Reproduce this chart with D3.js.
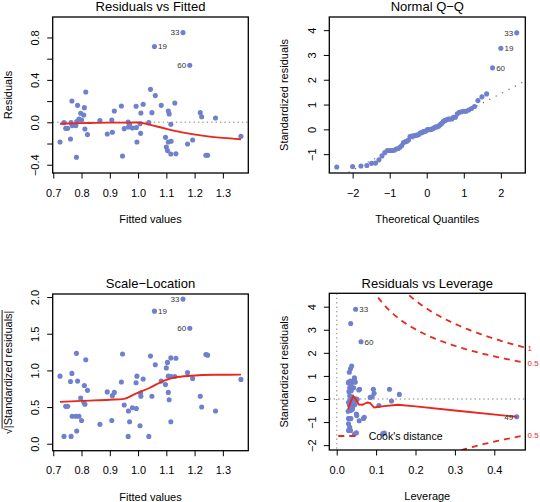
<!DOCTYPE html>
<html>
<head>
<meta charset="utf-8">
<script src="https://cdn.jsdelivr.net/npm/d3@7"></script>
<style>
  body { margin: 0; background: #fff; }
  svg { display: block; }
  text { font-family: "Liberation Sans", Arial, Helvetica, sans-serif; }
</style>
</head>
<body>
<svg id="chart" width="540" height="502"></svg>
<script>
// ---------------- DATA ----------------
// One entry per observation; the last four are the labelled observations.
const fitted = [0.724,0.738,0.744,0.751,0.761,0.766,0.763,0.767,0.780,0.782,0.786,0.783,0.791,0.797,0.800,0.808,0.810,0.812,0.815,0.821,
  0.865,0.891,0.907,0.909,0.916,0.941,0.945,0.951,0.965,0.966,0.970,0.980,0.993,0.994,0.996,1.010,1.007,1.009,1.018,1.038,1.044,1.049,1.061,
  1.082,1.097,1.107,1.110,1.100,1.107,1.117,1.104,1.116,1.134,1.116,1.130,1.175,1.193,1.220,1.225,1.274,1.240,1.246,
  1.159,1.058,1.183,1.364];
const residuals = [-0.186,-0.003,-0.057,-0.057,-0.157,0.201,-0.003,-0.031,-0.031,-0.330,0.160,0.006,0.031,0.085,0.022,0.069,0.138,-0.063,0.286,-0.116,
  0.016,-0.110,0.022,-0.094,0.107,0.154,-0.318,-0.060,0.003,-0.044,-0.019,-0.053,0.151,-0.050,-0.186,0.088,-0.013,-0.104,0.170,-0.003,0.311,0.091,0.252,
  0.160,-0.142,0.107,0.079,-0.233,-0.186,-0.179,-0.267,-0.299,-0.296,-0.019,0.182,-0.204,-0.167,0.091,0.053,0.041,-0.311,-0.311,
  0.846,0.714,0.538,-0.132];
const stdResiduals = [-0.85,-0.01,-0.26,-0.26,-0.72,0.92,-0.01,-0.14,-0.14,-1.52,0.73,0.03,0.14,0.39,0.10,0.32,0.63,-0.29,1.31,-0.53,
  0.07,-0.50,0.10,-0.43,0.49,0.71,-1.50,-0.28,0.01,-0.20,-0.09,-0.24,0.69,-0.23,-0.85,0.42,-0.06,-0.48,0.78,-0.01,1.43,0.42,1.16,
  0.73,-0.65,0.49,0.36,-1.07,-0.85,-0.84,-1.23,-1.37,-1.36,-0.09,0.84,-0.94,-0.79,0.42,0.25,0.20,-1.48,-1.46,
  3.89,3.27,2.48,-0.77];
const leverage = [0.030,0.035,0.040,0.032,0.051,0.045,0.052,0.030,0.036,0.045,0.030,0.040,0.033,0.056,0.038,0.031,0.036,0.042,0.035,0.029,
  0.085,0.034,0.090,0.040,0.033,0.038,0.117,0.107,0.048,0.033,0.139,0.046,0.030,0.038,0.031,0.093,0.044,0.037,0.035,0.041,0.038,0.134,0.032,
  0.047,0.050,0.043,0.037,0.030,0.036,0.068,0.033,0.030,0.035,0.044,0.045,0.057,0.070,0.058,0.095,0.159,0.121,0.050,
  0.048,0.0355,0.0617,0.457];
const labeledIds = ["33","19","60","49"];          // ids of the last four observations
const idsResidPanels = ["33","19","60"];           // labelled in panels 1-3
const idsLeveragePanel = ["33","60","49"];         // labelled in panel 4

// lowess smooth lines
const rfSmoothX = [0.724,0.80,0.90,0.97,1.00,1.04,1.10,1.16,1.24,1.30,1.364];
const rfSmoothY = [-0.013,-0.008,-0.003,-0.003,-0.002,-0.022,-0.062,-0.097,-0.130,-0.147,-0.160];
const slSmoothX = [0.724,0.80,0.90,0.95,0.99,1.04,1.095,1.13,1.19,1.27,1.364];
const slSmoothY = [0.57,0.585,0.60,0.612,0.68,0.76,0.865,0.905,0.928,0.94,0.942];
const rlSmoothX = [0.029,0.035,0.042,0.048,0.056,0.065,0.078,0.085,0.095,0.115,0.155,0.20,0.30,0.457];
const rlSmoothY = [-0.45,-0.15,0.13,0.0,-0.24,-0.25,-0.15,-0.18,-0.37,-0.32,-0.25,-0.32,-0.50,-0.77];

// Cook's distance contours
const cookLevels = [0.5, 1];
const cookP = 4.55;

// ticks
const fitTicks = [0.7,0.8,0.9,1.0,1.1,1.2,1.3];
const fitTickLabels = ["0.7","0.8","0.9","1.0","1.1","1.2","1.3"];
const residTicks = [-0.4,-0.2,0,0.2,0.4,0.6,0.8];
const residTickLabels = ["\u22120.4","","0.0","","0.4","","0.8"];
const qqXTicks = [-2,-1,0,1,2];
const qqXTickLabels = ["\u22122","\u22121","0","1","2"];
const qqYTicks = [-1,0,1,2,3,4];
const qqYTickLabels = ["\u22121","0","1","2","3","4"];
const slYTicks = [0,0.5,1,1.5,2];
const slYTickLabels = ["0.0","0.5","1.0","1.5","2.0"];
const levXTicks = [0,0.1,0.2,0.3,0.4];
const levXTickLabels = ["0.0","0.1","0.2","0.3","0.4"];
const levYTicks = [-2,-1,0,1,2,3,4];
const levYTickLabels = ["\u22122","\u22121","0","1","2","3","4"];

// ---------------- STYLE ----------------
const PT_COLOR = "#6f80cc";
const RED = "#e8281c";
const GRAY = "#aaaaaa";
const TICK = 5.5;
const svg = d3.select("#chart");
const defs = svg.append("defs");

const n = fitted.length;
const obs = d3.range(n).map(i => ({
  i, f: fitted[i], r: residuals[i], s: stdResiduals[i], h: leverage[i],
  id: i >= n - labeledIds.length ? labeledIds[i - (n - labeledIds.length)] : null
}));

// inverse normal CDF (Acklam)
function qnorm(p) {
  const a=[-3.969683028665376e+01,2.209460984245205e+02,-2.759285104469687e+02,1.383577518672690e+02,-3.066479806614716e+01,2.506628277459239e+00];
  const b=[-5.447609879822406e+01,1.615858368580409e+02,-1.556989798598866e+02,6.680131188771972e+01,-1.328068155288572e+01];
  const c=[-7.784894002430293e-03,-3.223964580411365e-01,-2.400758277161838e+00,-2.549732539343734e+00,4.374664141464968e+00,2.938163982698783e+00];
  const d=[7.784695709041462e-03,3.224671290700398e-01,2.445134137142996e+00,3.754408661907416e+00];
  const pl=0.02425, ph=1-pl; let q, r;
  if (p < pl) { q=Math.sqrt(-2*Math.log(p)); return (((((c[0]*q+c[1])*q+c[2])*q+c[3])*q+c[4])*q+c[5])/((((d[0]*q+d[1])*q+d[2])*q+d[3])*q+1); }
  if (p > ph) { q=Math.sqrt(-2*Math.log(1-p)); return -(((((c[0]*q+c[1])*q+c[2])*q+c[3])*q+c[4])*q+c[5])/((((d[0]*q+d[1])*q+d[2])*q+d[3])*q+1); }
  q=p-0.5; r=q*q;
  return (((((a[0]*r+a[1])*r+a[2])*r+a[3])*r+a[4])*r+a[5])*q/(((((b[0]*r+b[1])*r+b[2])*r+b[3])*r+b[4])*r+1);
}

function makePanel(o) {
  const x = d3.scaleLinear().domain(o.xDomain).range([o.box.x0, o.box.x1]);
  const y = d3.scaleLinear().domain(o.yDomain).range([o.box.y1, o.box.y0]);
  const g = svg.append("g");
  const clipId = "clip-" + o.key;
  defs.append("clipPath").attr("id", clipId).append("rect")
    .attr("x", o.box.x0).attr("y", o.box.y0)
    .attr("width", o.box.x1 - o.box.x0).attr("height", o.box.y1 - o.box.y0);
  const plot = g.append("g").attr("clip-path", `url(#${clipId})`);

  // x axis
  const xa = g.append("g").attr("transform", `translate(0,${o.box.y1})`)
    .call(d3.axisBottom(x).tickValues(o.xTicks).tickFormat((d, i) => o.xTickLabels[i]).tickSize(TICK).tickPadding(10.2));
  xa.select(".domain").remove();
  xa.attr("font-size", 11).attr("font-family", null);
  xa.selectAll(".tick line").attr("stroke", "#000");
  xa.selectAll(".tick text").attr("fill", "#000");

  // y axis (labels parallel to axis)
  const ya = g.append("g").attr("transform", `translate(${o.box.x0},0)`)
    .call(d3.axisLeft(y).tickValues(o.yTicks).tickFormat((d, i) => o.yTickLabels[i]).tickSize(TICK));
  ya.select(".domain").remove();
  ya.attr("font-size", 11).attr("font-family", null);
  ya.selectAll(".tick line").attr("stroke", "#000");
  ya.selectAll(".tick text").attr("fill", "#000").attr("x", null).attr("dy", null)
    .attr("text-anchor", "middle").attr("transform", "translate(-13.7,0) rotate(-90)");

  // titles
  const cx = (o.box.x0 + o.box.x1) / 2, cy = (o.box.y0 + o.box.y1) / 2;
  g.append("text").attr("x", cx).attr("y", o.box.y0 - 5.8).attr("text-anchor", "middle")
    .attr("font-size", 13).text(o.title);
  g.append("text").attr("x", cx).attr("y", o.box.y1 + 50).attr("text-anchor", "middle")
    .attr("font-size", 11).text(o.xTitle);
  const yt = g.append("g").attr("transform", `translate(${o.box.x0 - 41},${cy}) rotate(-90)`);
  const ytText = yt.append("text").attr("text-anchor", "middle").attr("font-size", 11).text(o.yTitle);
  if (o.radical) {
    const node = ytText.node();
    const L = node.getComputedTextLength();
    const w0 = node.getSubStringLength(0, 1);
    yt.append("line").attr("x1", -L / 2 + w0 - 0.6).attr("x2", L / 2 + 0.5)
      .attr("y1", -9.6).attr("y2", -9.6).attr("stroke", "#000").attr("stroke-width", 0.9);
  }
  return { x, y, g, plot, box: o.box };
}

function drawBox(p) {
  p.g.append("rect").attr("x", p.box.x0).attr("y", p.box.y0)
    .attr("width", p.box.x1 - p.box.x0).attr("height", p.box.y1 - p.box.y0)
    .attr("fill", "none").attr("stroke", "#000").attr("stroke-width", 1.3);
}

function drawPoints(p, data, xf, yf) {
  p.plot.append("g").selectAll("circle").data(data).join("circle")
    .attr("cx", d => p.x(xf(d))).attr("cy", d => p.y(yf(d))).attr("r", 2.55)
    .attr("fill", PT_COLOR);
}

function drawSmooth(p, xs, ys, curve) {
  const line = d3.line().x(d => p.x(d[0])).y(d => p.y(d[1])).curve(curve);
  p.plot.append("path").attr("d", line(d3.zip(xs, ys)))
    .attr("fill", "none").attr("stroke", RED).attr("stroke-width", 1.9);
}

function drawLabels(p, data, ids, xf, yf) {
  const sel = data.filter(d => ids.includes(d.id));
  const ext = d3.extent(sel, xf);
  const mid = (ext[0] + ext[1]) / 2;
  p.g.append("g").selectAll("text").data(sel).join("text")
    .attr("x", d => p.x(xf(d)) + (xf(d) > mid ? -3.6 : 3.6))
    .attr("y", d => p.y(yf(d)) + 2.9)
    .attr("text-anchor", d => xf(d) > mid ? "end" : "start")
    .attr("font-size", 8).attr("fill", "#333").text(d => d.id);
}

function hDotted(p, yv) {
  p.plot.append("line").attr("x1", p.box.x0).attr("x2", p.box.x1)
    .attr("y1", p.y(yv)).attr("y2", p.y(yv))
    .attr("stroke", GRAY).attr("stroke-width", 1.4).attr("stroke-dasharray", "1.4,3");
}

// ---------------- PANEL 1: Residuals vs Fitted ----------------
const p1 = makePanel({
  key: "rf", box: {x0: 52.7, x1: 248.3, y0: 17, y1: 173},
  xDomain: [0.698, 1.390], yDomain: [-0.478, 0.993],
  xTicks: fitTicks, xTickLabels: fitTickLabels, yTicks: residTicks, yTickLabels: residTickLabels,
  title: "Residuals vs Fitted", xTitle: "Fitted values", yTitle: "Residuals"
});
hDotted(p1, 0);
drawPoints(p1, obs, d => d.f, d => d.r);
drawSmooth(p1, rfSmoothX, rfSmoothY, d3.curveMonotoneX);
drawLabels(p1, obs, idsResidPanels, d => d.f, d => d.r);
drawBox(p1);

// ---------------- PANEL 2: Normal Q-Q ----------------
const p2 = makePanel({
  key: "qq", box: {x0: 329.3, x1: 525.3, y0: 17, y1: 173},
  xDomain: [-2.63, 2.66], yDomain: [-1.76, 4.53],
  xTicks: qqXTicks, xTickLabels: qqXTickLabels, yTicks: qqYTicks, yTickLabels: qqYTickLabels,
  title: "Normal Q\u2212Q", xTitle: "Theoretical Quantiles", yTitle: "Standardized residuals"
});
const qqData = obs.slice().sort((a, b) => a.s - b.s).map((d, k) => ({...d, q: qnorm((k + 0.5) / n)}));
{
  const sv = qqData.map(d => d.s);
  const q1 = d3.quantile(sv, 0.25), q3 = d3.quantile(sv, 0.75);
  const z1 = qnorm(0.25), z3 = qnorm(0.75);
  const slope = (q3 - q1) / (z3 - z1), icpt = q1 - slope * z1;
  const xs = p2.x.domain();
  p2.plot.append("line")
    .attr("x1", p2.x(xs[0])).attr("y1", p2.y(icpt + slope * xs[0]))
    .attr("x2", p2.x(xs[1])).attr("y2", p2.y(icpt + slope * xs[1]))
    .attr("stroke", "#666").attr("stroke-width", 1.2).attr("stroke-dasharray", "1.2,6");
}
drawPoints(p2, qqData, d => d.q, d => d.s);
drawLabels(p2, qqData, idsResidPanels, d => d.q, d => d.s);
drawBox(p2);

// ---------------- PANEL 3: Scale-Location ----------------
const p3 = makePanel({
  key: "sl", box: {x0: 52.7, x1: 248.3, y0: 294, y1: 450.7},
  xDomain: [0.698, 1.390], yDomain: [-0.095, 2.042],
  xTicks: fitTicks, xTickLabels: fitTickLabels, yTicks: slYTicks, yTickLabels: slYTickLabels,
  title: "Scale\u2212Location", xTitle: "Fitted values", yTitle: "\u221A|Standardized residuals|", radical: true
});
drawPoints(p3, obs, d => d.f, d => Math.sqrt(Math.abs(d.s)));
drawSmooth(p3, slSmoothX, slSmoothY, d3.curveMonotoneX);
drawLabels(p3, obs, idsResidPanels, d => d.f, d => Math.sqrt(Math.abs(d.s)));
drawBox(p3);

// ---------------- PANEL 4: Residuals vs Leverage ----------------
const p4 = makePanel({
  key: "rl", box: {x0: 329.3, x1: 525.3, y0: 293.3, y1: 450},
  xDomain: [-0.0188, 0.4787], yDomain: [-2.21, 4.58],
  xTicks: levXTicks, xTickLabels: levXTickLabels, yTicks: levYTicks, yTickLabels: levYTickLabels,
  title: "Residuals vs Leverage", xTitle: "Leverage", yTitle: "Standardized residuals"
});
hDotted(p4, 0);
p4.plot.append("line").attr("x1", p4.x(0)).attr("x2", p4.x(0)).attr("y1", p4.box.y0).attr("y2", p4.box.y1)
  .attr("stroke", GRAY).attr("stroke-width", 1.4).attr("stroke-dasharray", "1.4,3");
drawPoints(p4, obs, d => d.h, d => d.s);
drawSmooth(p4, rlSmoothX, rlSmoothY, d3.curveLinear);
{
  const hMax = p4.x.domain()[1];
  const hMin = Math.min(d3.min(leverage), d3.max(leverage) / 100);
  const hh = d3.range(101).map(k => hMin + (hMax - hMin) * k / 100);
  const line = d3.line().x(d => p4.x(d[0])).y(d => p4.y(d[1]));
  cookLevels.forEach(lv => {
    [1, -1].forEach(sgn => {
      const pts = hh.map(h => [h, sgn * Math.sqrt(lv * cookP * (1 - h) / h)]);
      p4.plot.append("path").attr("d", line(pts)).attr("fill", "none")
        .attr("stroke", RED).attr("stroke-width", 1.8).attr("stroke-dasharray", "6,5");
    });
  });
  // labels of contour levels on the right margin
  const ymult = Math.sqrt(cookP * (1 - hMax) / hMax);
  const yr = p4.y.domain();
  const levelLabels = [];
  cookLevels.forEach(lv => { levelLabels.push({v: Math.sqrt(lv) * ymult, t: String(lv)}); levelLabels.push({v: -Math.sqrt(lv) * ymult, t: String(lv)}); });
  p4.g.append("g").selectAll("text").data(levelLabels.filter(d => d.v >= yr[0] && d.v <= yr[1])).join("text")
    .attr("x", p4.box.x1 + 2.2).attr("y", d => p4.y(d.v) + 2.9)
    .attr("font-size", 8).attr("fill", RED).text(d => d.t);
  // legend
  const ly = 436;
  p4.g.append("line").attr("x1", p4.box.x0 + 9).attr("x2", p4.box.x0 + 28).attr("y1", ly).attr("y2", ly)
    .attr("stroke", RED).attr("stroke-width", 1.8).attr("stroke-dasharray", "6,5");
  p4.g.append("text").attr("x", p4.box.x0 + 39.4).attr("y", ly + 4).attr("font-size", 10.5)
    .text("Cook's distance");
}
drawLabels(p4, obs, idsLeveragePanel, d => d.h, d => d.s);
drawBox(p4);
</script>
</body>
</html>
